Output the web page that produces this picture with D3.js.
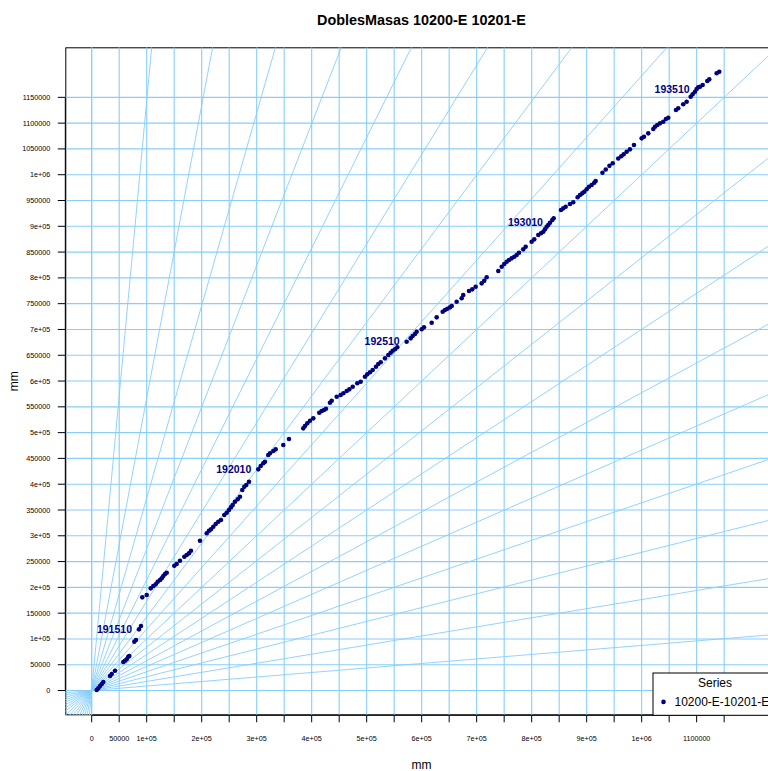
<!DOCTYPE html>
<html>
<head>
<meta charset="utf-8">
<script src="https://cdn.jsdelivr.net/npm/d3@7"></script>
<style>
    body { margin: 0; background: #fff; }
    svg { display: block; }
    text { font-family: "Liberation Sans", Arial, sans-serif; }
</style>
</head>
<body>
<div id="chart"></div>
<script>
// cumulative masses (mm)
const massX = [
    9100, 12000, 15100, 18200, 21100, 33300, 36400, 42400, 57500, 60500, 63600, 66500, 68400, 77500, 80500, 86000, 89600,
    92000, 100000, 107300, 112000, 116400, 120000, 124200, 127300, 130200, 133300, 136400, 150200, 154500, 160500, 168400,
    172700, 176900, 180500, 196900, 209100, 213300, 216900, 221100, 225500, 230200, 235100, 241100, 245500, 249600, 253300,
    256400, 260500, 265500, 269600, 273800, 277500, 281100, 286000, 302900, 307300, 312000, 315100, 321100, 324200, 330200,
    334500, 348400, 358700,
    384700, 387800, 392000, 396900, 402900, 413800, 418200, 422400, 426000, 433300, 436400, 445500, 452700, 457500, 463600,
    468400, 474600, 482900, 489100, 496900, 501100, 506000, 510900, 516900, 521100, 525500, 533300, 539300, 543600, 547300,
    551500, 555600, 572700, 580000, 583600, 587800, 590900, 600000, 604200, 618200, 627300, 638200, 642400, 646600, 651500,
    654600, 663600, 672700, 675600, 686000,
    692000, 698200, 709100, 713800, 718200, 739300, 745500, 750200, 754600, 758700, 763600, 768400, 772700, 776900, 784700,
    789100, 800000, 804700, 812000, 816900, 821100, 824200, 827300, 830200, 833300, 837500, 840000, 853300, 857500, 861800,
    869600, 875600, 883600, 887800, 892000, 895600, 900000, 904200, 909100, 913800, 916400, 928700, 934700, 941400, 947400,
    957400, 962900, 967300, 972700, 978700, 986000, 1000000, 1004200, 1012000, 1021100, 1024200, 1028400, 1033300, 1039300,
    1044200, 1048400, 1062400, 1066500, 1075600, 1081800, 1089100, 1092700, 1096900, 1100000, 1102900, 1106000, 1110900,
    1119300, 1122900, 1136400, 1141100
]
const massY = [
    1000, 4300, 8700, 12600, 16500, 28100, 32000, 38400, 55300, 57800, 60500, 65500, 66900, 94600, 97900, 118600, 125000,
    180700, 185100, 198100, 202600, 205900, 210900, 214200, 217500, 222000, 225900, 228400, 241900, 245200, 251600, 259400,
    262700, 266000, 271000, 290400, 304800, 309800, 312500, 317600, 322800, 327300, 330600, 340200, 344700, 349900, 355200,
    359600, 366000, 370700, 375700, 388700, 395100, 398400, 404800, 428800, 435200, 440500, 443600, 456600, 459900, 464300,
    467600, 476000, 487600,
    508300, 512800, 518000, 523100, 527700, 538600, 541900, 543800, 546300, 558000, 561800, 569600, 572900, 576200, 580600,
    583900, 589000, 595600, 598700, 608400, 613000, 616900, 621400, 627800, 633000, 636300, 644000, 650400, 654900, 658800,
    661500, 665400, 676200, 682800, 687300, 691200, 695600, 700300, 704100, 713100, 723500, 734400, 737700, 740200, 742900,
    745400, 753800, 760400, 766800, 774500,
    777800, 782900, 789400, 794500, 801100, 813300, 821600, 826900, 831300, 834600, 837900, 841000, 844300, 848800, 855300,
    860400, 870100, 874700, 883100, 886400, 889500, 894100, 899200, 902400, 906900, 912200, 915500, 931500, 934800, 937900,
    943200, 946500, 956200, 960600, 963900, 967000, 971700, 976700, 980000, 984500, 987800, 1003700, 1010100, 1017200, 1022300,
    1031400, 1035900, 1039700, 1044600, 1049200, 1057600, 1070500, 1073700, 1080200, 1088600, 1093000, 1096300, 1099600, 1102700,
    1108000, 1110500, 1125400, 1128700, 1136500, 1141500, 1151200, 1155800, 1160900, 1166100, 1169400, 1170600, 1173900,
    1181600, 1184900, 1196600, 1199700
]

// labelled points (year + month)
const pointLabels = ["191510", "192010", "192510", "193010", "193510"]
const pointLabelIndex = [15, 55, 97, 139, 183]

const tickValues = [0, 50000, 100000, 150000, 200000, 250000, 300000, 350000, 400000, 450000, 500000, 550000,
    600000, 650000, 700000, 750000, 800000, 850000, 900000, 950000, 1000000, 1050000, 1100000, 1150000]
const yTickLabels = ["0", "50000", "1e+05", "150000", "2e+05", "250000", "3e+05", "350000", "4e+05", "450000", "5e+05", "550000",
    "6e+05", "650000", "7e+05", "750000", "8e+05", "850000", "9e+05", "950000", "1e+06", "1050000", "1100000", "1150000"]
const xTickLabels = ["0", "50000", "1e+05", "", "2e+05", "", "3e+05", "", "4e+05", "", "5e+05", "",
    "6e+05", "", "7e+05", "", "8e+05", "", "9e+05", "", "1e+06", "", "1100000", ""]

// reference lines through the origin, degrees
const rayAngles = [0, 5, 10, 15, 20, 25, 30, 35, 40, 45, 50, 55, 60, 65, 70, 75, 80, 85, 90]

const seriesName = "10200-E-10201-E"
const axisLimits = [-48000, 1247000]

const margin = { top: 47.3, left: 65.3 }
const width = 712.2
const height = 668

const gridColor = "#87cefa"
const pointColor = "#000080"

const svg = d3.select("#chart").append("svg")
    .attr("width", 768)
    .attr("height", 771)

const x = d3.scaleLinear().domain(axisLimits).range([0, width])
const y = d3.scaleLinear().domain(axisLimits).range([height, 0])

const g = svg.append("g")
    .attr("transform", "translate(" + margin.left + "," + margin.top + ")")

g.append("clipPath").attr("id", "plotclip")
    .append("rect").attr("width", width).attr("height", height)

// box
g.append("rect")
    .attr("x", 0.5).attr("y", 0.5)
    .attr("width", width - 1).attr("height", height - 1)
    .attr("fill", "none").attr("stroke", "#000").attr("stroke-width", 1)

const lines = g.append("g").attr("clip-path", "url(#plotclip)")

// grid
lines.selectAll("line.vgrid").data(tickValues).join("line")
    .attr("class", "vgrid")
    .attr("x1", d => x(d)).attr("x2", d => x(d))
    .attr("y1", 0).attr("y2", height)
    .attr("stroke", gridColor).attr("stroke-width", 1.1)

lines.selectAll("line.hgrid").data(tickValues).join("line")
    .attr("class", "hgrid")
    .attr("x1", 0).attr("x2", width)
    .attr("y1", d => y(d)).attr("y2", d => y(d))
    .attr("stroke", gridColor).attr("stroke-width", 1.1)

// rays
const far = 3000000
lines.selectAll("line.ray").data(rayAngles).join("line")
    .attr("class", "ray")
    .attr("x1", d => x(-far * Math.cos(d * Math.PI / 180)))
    .attr("y1", d => y(-far * Math.sin(d * Math.PI / 180)))
    .attr("x2", d => x(far * Math.cos(d * Math.PI / 180)))
    .attr("y2", d => y(far * Math.sin(d * Math.PI / 180)))
    .attr("stroke", gridColor).attr("stroke-width", 0.9)

// points
const points = massX.map((v, i) => ({ x: v, y: massY[i] }))
g.append("g").selectAll("circle").data(points).join("circle")
    .attr("cx", d => x(d.x))
    .attr("cy", d => y(d.y))
    .attr("r", 2.3)
    .attr("fill", pointColor)

// point labels (to the left of the point)
g.append("g").selectAll("text").data(pointLabels).join("text")
    .attr("x", (d, i) => x(massX[pointLabelIndex[i]]) - 7)
    .attr("y", (d, i) => y(massY[pointLabelIndex[i]]))
    .attr("dy", "0.35em")
    .attr("text-anchor", "end")
    .attr("font-size", "10.5px")
    .attr("font-weight", "bold")
    .attr("fill", pointColor)
    .text(d => d)

// axes
const xAxis = g.append("g").attr("transform", "translate(0," + height + ")")
xAxis.append("line")
    .attr("x1", x(tickValues[0])).attr("x2", x(tickValues[tickValues.length - 1]))
    .attr("stroke", "#000")
xAxis.selectAll("line.tick").data(tickValues).join("line")
    .attr("class", "tick")
    .attr("x1", d => x(d)).attr("x2", d => x(d))
    .attr("y1", 0).attr("y2", 7)
    .attr("stroke", "#000")
xAxis.selectAll("text").data(tickValues).join("text")
    .attr("x", d => x(d))
    .attr("y", 25.5)
    .attr("text-anchor", "middle")
    .attr("font-size", "7.2px")
    .text((d, i) => xTickLabels[i])

const yAxis = g.append("g")
yAxis.append("line")
    .attr("y1", y(tickValues[0])).attr("y2", y(tickValues[tickValues.length - 1]))
    .attr("stroke", "#000")
yAxis.selectAll("line.tick").data(tickValues).join("line")
    .attr("class", "tick")
    .attr("y1", d => y(d)).attr("y2", d => y(d))
    .attr("x1", 0).attr("x2", -7.5)
    .attr("stroke", "#000")
yAxis.selectAll("text").data(tickValues).join("text")
    .attr("x", -15)
    .attr("y", d => y(d))
    .attr("dy", "0.35em")
    .attr("text-anchor", "end")
    .attr("font-size", "7.2px")
    .text((d, i) => yTickLabels[i])

// titles
svg.append("text")
    .attr("x", margin.left + width / 2).attr("y", 25)
    .attr("text-anchor", "middle")
    .attr("font-size", "14.4px").attr("font-weight", "bold")
    .text("DoblesMasas 10200-E 10201-E")

svg.append("text")
    .attr("x", margin.left + width / 2).attr("y", 769)
    .attr("text-anchor", "middle")
    .attr("font-size", "12px")
    .text("mm")

svg.append("text")
    .attr("transform", "translate(18," + (margin.top + height / 2) + ") rotate(-90)")
    .attr("text-anchor", "middle")
    .attr("font-size", "12px")
    .text("mm")

// legend, bottom right of the plot
const legW = 125, legH = 42.8
const legend = svg.append("g")
    .attr("transform", "translate(" + (margin.left + width - legW) + "," + (margin.top + height - legH) + ")")
legend.append("rect")
    .attr("x", 0.5).attr("y", 0.5)
    .attr("width", legW).attr("height", legH - 0.5)
    .attr("fill", "#fff").attr("stroke", "#000")
legend.append("text")
    .attr("x", legW / 2).attr("y", 10.5)
    .attr("dy", "0.35em")
    .attr("text-anchor", "middle")
    .attr("font-size", "12px")
    .text("Series")
legend.append("circle")
    .attr("cx", 11).attr("cy", 29.4).attr("r", 2.3)
    .attr("fill", pointColor)
legend.append("text")
    .attr("x", 22).attr("y", 29.4)
    .attr("dy", "0.35em")
    .attr("font-size", "12px")
    .text(seriesName)
</script>
</body>
</html>
